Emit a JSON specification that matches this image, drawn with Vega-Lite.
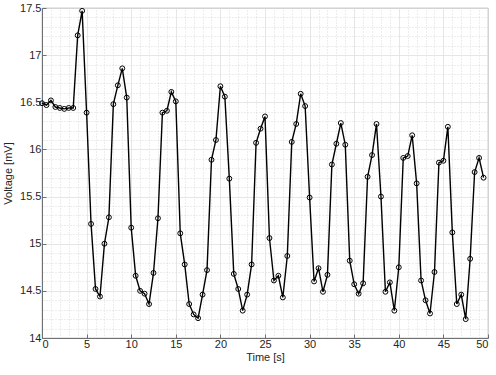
{
  "$schema": "https://vega.github.io/schema/vega-lite/v6.json",
  "width": 446,
  "height": 330,
  "autosize": {"type": "none"},
  "padding": {"left": 42, "top": 8, "right": 8, "bottom": 37},
  "config": {
    "view": {"stroke": "#707070", "strokeWidth": 0.8},
    "axis": {
      "labelFont": "Liberation Sans",
      "titleFont": "Liberation Sans",
      "labelFontSize": 11,
      "titleFontSize": 11,
      "titleFontWeight": "normal",
      "labelColor": "#262626",
      "titleColor": "#262626",
      "domainColor": "#707070",
      "tickColor": "#707070"
    }
  },
  "data": {
    "values": [
      {"t": 0, "v": 16.49}, {"t": 0.5, "v": 16.47}, {"t": 1, "v": 16.52}, {"t": 1.5, "v": 16.45},
      {"t": 2, "v": 16.44}, {"t": 2.5, "v": 16.43}, {"t": 3, "v": 16.44}, {"t": 3.5, "v": 16.44},
      {"t": 4, "v": 17.21}, {"t": 4.5, "v": 17.47}, {"t": 5, "v": 16.39}, {"t": 5.5, "v": 15.21},
      {"t": 6, "v": 14.52}, {"t": 6.5, "v": 14.44}, {"t": 7, "v": 15.0}, {"t": 7.5, "v": 15.28},
      {"t": 8, "v": 16.48}, {"t": 8.5, "v": 16.68}, {"t": 9, "v": 16.86}, {"t": 9.5, "v": 16.55},
      {"t": 10, "v": 15.17}, {"t": 10.5, "v": 14.66}, {"t": 11, "v": 14.5}, {"t": 11.5, "v": 14.47},
      {"t": 12, "v": 14.36}, {"t": 12.5, "v": 14.69}, {"t": 13, "v": 15.27}, {"t": 13.5, "v": 16.39},
      {"t": 14, "v": 16.41}, {"t": 14.5, "v": 16.61}, {"t": 15, "v": 16.51}, {"t": 15.5, "v": 15.11},
      {"t": 16, "v": 14.78}, {"t": 16.5, "v": 14.36}, {"t": 17, "v": 14.25}, {"t": 17.5, "v": 14.21},
      {"t": 18, "v": 14.46}, {"t": 18.5, "v": 14.72}, {"t": 19, "v": 15.89}, {"t": 19.5, "v": 16.1},
      {"t": 20, "v": 16.67}, {"t": 20.5, "v": 16.56}, {"t": 21, "v": 15.69}, {"t": 21.5, "v": 14.68},
      {"t": 22, "v": 14.52}, {"t": 22.5, "v": 14.29}, {"t": 23, "v": 14.46}, {"t": 23.5, "v": 14.78},
      {"t": 24, "v": 16.07}, {"t": 24.5, "v": 16.22}, {"t": 25, "v": 16.35}, {"t": 25.5, "v": 15.06},
      {"t": 26, "v": 14.61}, {"t": 26.5, "v": 14.66}, {"t": 27, "v": 14.43}, {"t": 27.5, "v": 14.87},
      {"t": 28, "v": 16.08}, {"t": 28.5, "v": 16.27}, {"t": 29, "v": 16.59}, {"t": 29.5, "v": 16.46},
      {"t": 30, "v": 15.49}, {"t": 30.5, "v": 14.6}, {"t": 31, "v": 14.74}, {"t": 31.5, "v": 14.49},
      {"t": 32, "v": 14.67}, {"t": 32.5, "v": 15.84}, {"t": 33, "v": 16.06}, {"t": 33.5, "v": 16.28},
      {"t": 34, "v": 16.05}, {"t": 34.5, "v": 14.82}, {"t": 35, "v": 14.57}, {"t": 35.5, "v": 14.47},
      {"t": 36, "v": 14.58}, {"t": 36.5, "v": 15.71}, {"t": 37, "v": 15.94}, {"t": 37.5, "v": 16.27},
      {"t": 38, "v": 15.5}, {"t": 38.5, "v": 14.49}, {"t": 39, "v": 14.59}, {"t": 39.5, "v": 14.29},
      {"t": 40, "v": 14.75}, {"t": 40.5, "v": 15.91}, {"t": 41, "v": 15.93}, {"t": 41.5, "v": 16.15},
      {"t": 42, "v": 15.64}, {"t": 42.5, "v": 14.61}, {"t": 43, "v": 14.4}, {"t": 43.5, "v": 14.26},
      {"t": 44, "v": 14.7}, {"t": 44.5, "v": 15.86}, {"t": 45, "v": 15.88}, {"t": 45.5, "v": 16.24},
      {"t": 46, "v": 15.12}, {"t": 46.5, "v": 14.36}, {"t": 47, "v": 14.46}, {"t": 47.5, "v": 14.2},
      {"t": 48, "v": 14.84}, {"t": 48.5, "v": 15.76}, {"t": 49, "v": 15.91}, {"t": 49.5, "v": 15.7}
    ]
  },
  "layer": [
    {
      "mark": {"type": "point", "opacity": 0},
      "encoding": {
        "x": {
          "field": "t", "type": "quantitative",
          "scale": {"domain": [0, 50], "nice": false},
          "axis": {
            "orient": "top", "title": null, "labels": false, "ticks": false, "domain": false,
            "grid": true, "gridColor": "#d0d0d0", "gridDash": [1, 2], "gridWidth": 0.8,
            "values": [1,2,3,4,6,7,8,9,11,12,13,14,16,17,18,19,21,22,23,24,26,27,28,29,31,32,33,34,36,37,38,39,41,42,43,44,46,47,48,49]
          }
        },
        "y": {
          "field": "v", "type": "quantitative",
          "scale": {"domain": [14, 17.5], "nice": false, "zero": false},
          "axis": {
            "orient": "right", "title": null, "labels": false, "ticks": false, "domain": false,
            "grid": true, "gridColor": "#d0d0d0", "gridDash": [1, 2], "gridWidth": 0.8,
            "values": [14.1,14.2,14.3,14.4,14.6,14.7,14.8,14.9,15.1,15.2,15.3,15.4,15.6,15.7,15.8,15.9,16.1,16.2,16.3,16.4,16.6,16.7,16.8,16.9,17.1,17.2,17.3,17.4]
          }
        }
      }
    },
    {
      "mark": {"type": "line", "color": "black", "strokeWidth": 1.4},
      "encoding": {
        "x": {
          "field": "t", "type": "quantitative",
          "scale": {"domain": [0, 50], "nice": false},
          "axis": {
            "title": "Time [s]", "values": [0,5,10,15,20,25,30,35,40,45,50],
            "grid": true, "gridColor": "#e0e0e0", "gridWidth": 0.8,
            "tickSize": -4, "labelPadding": 4, "titlePadding": 2
          }
        },
        "y": {
          "field": "v", "type": "quantitative",
          "scale": {"domain": [14, 17.5], "nice": false, "zero": false},
          "axis": {
            "title": "Voltage [mV]", "values": [14,14.5,15,15.5,16,16.5,17,17.5], "format": "~g",
            "grid": true, "gridColor": "#e0e0e0", "gridWidth": 0.8,
            "tickSize": -4, "labelPadding": 5, "titlePadding": 6
          }
        }
      }
    },
    {
      "mark": {"type": "point", "filled": false, "color": "black", "size": 24, "strokeWidth": 1, "opacity": 1},
      "encoding": {
        "x": {"field": "t", "type": "quantitative", "axis": null},
        "y": {"field": "v", "type": "quantitative", "axis": null}
      }
    }
  ],
  "resolve": {"axis": {"x": "independent", "y": "independent"}}
}
